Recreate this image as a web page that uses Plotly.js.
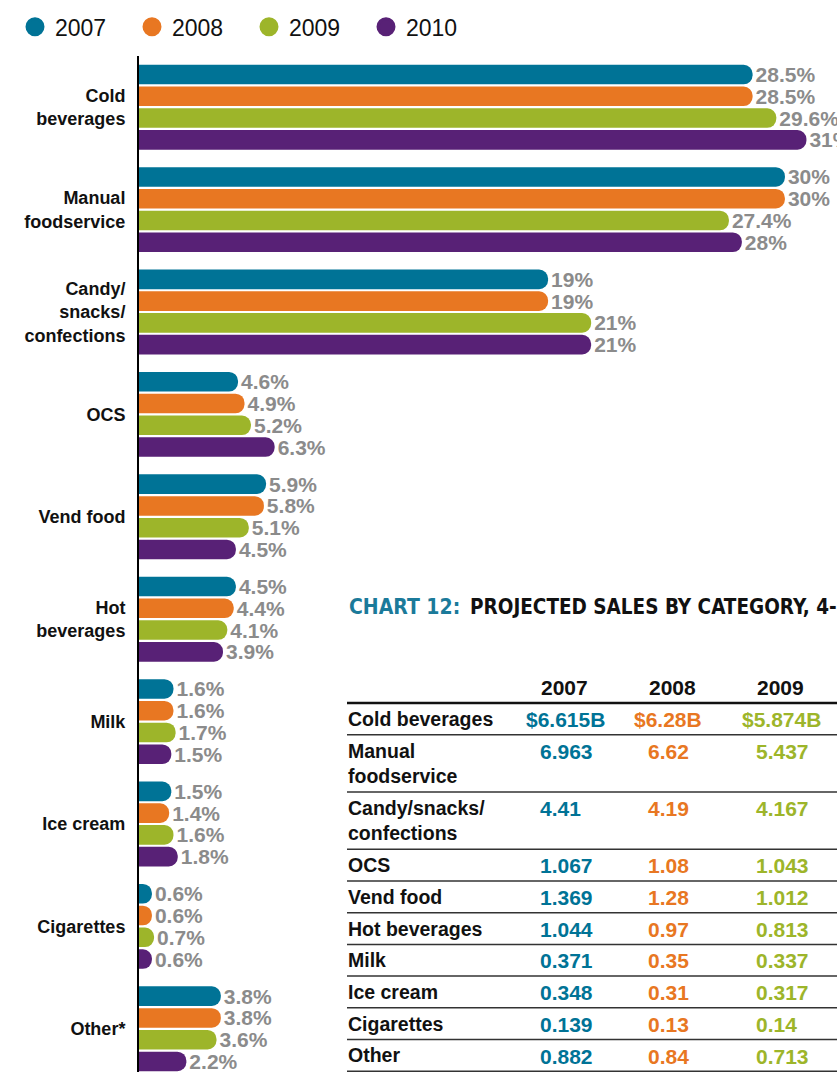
<!DOCTYPE html>
<html><head><meta charset="utf-8">
<script src="https://cdn.plot.ly/plotly-3.0.1.min.js"></script>
<style>html,body{margin:0;padding:0;background:#fff;overflow:hidden;} #chart{width:837px;height:1072px;}</style>
</head><body><div id="chart"></div>
<script>
// ---- bar chart data (share of sales, %) ----
const categories = ["Cold<br>beverages","Manual<br>foodservice","Candy/<br>snacks/<br>confections","OCS","Vend food","Hot<br>beverages","Milk","Ice cream","Cigarettes","Other*"];
const years = ["2007","2008","2009","2010"];
const share2007 = [28.5, 30, 19, 4.6, 5.9, 4.5, 1.6, 1.5, 0.6, 3.8];
const share2008 = [28.5, 30, 19, 4.9, 5.8, 4.4, 1.6, 1.4, 0.6, 3.8];
const share2009 = [29.6, 27.4, 21, 5.2, 5.1, 4.1, 1.7, 1.6, 0.7, 3.6];
const share2010 = [31, 28, 21, 6.3, 4.5, 3.9, 1.5, 1.8, 0.6, 2.2];

// ---- table data (projected sales, $ billions) ----
const tableTitleLead = "CHART 12:";
const tableTitleRest = "PROJECTED SALES BY CATEGORY, 4-";
const tableYears = ["2007","2008","2009"];
const tableRows = ["Cold beverages","Manual<br>foodservice","Candy/snacks/<br>confections","OCS","Vend food","Hot beverages","Milk","Ice cream","Cigarettes","Other"];
const sales2007 = [6.615, 6.963, 4.41, 1.067, 1.369, 1.044, 0.371, 0.348, 0.139, 0.882];
const sales2008 = [6.28, 6.62, 4.19, 1.08, 1.28, 0.97, 0.35, 0.31, 0.13, 0.84];
const sales2009 = [5.874, 5.437, 4.167, 1.043, 1.012, 0.813, 0.337, 0.317, 0.14, 0.713];

// ---- styling / geometry ----
const colors = ["#007396","#e87722","#9db52a","#582176"];
const W = 837, H = 1072, L = 139, T = 56;
const plotW = W - L, plotH = H - T;
const pxPerPct = 21.53, groupPitch = 102.4;
const px2x = p => (p - L) / plotW;
const py2y = p => 1 - (p - T) / plotH;
const sansFam = "Liberation Sans, Arial, Helvetica, sans-serif";
const narrowFam = "DejaVu Sans Condensed, Liberation Sans Narrow, Arial Narrow, sans-serif";

const shares = [share2007, share2008, share2009, share2010];
const traces = shares.map((s, i) => ({
  type: 'bar', orientation: 'h', name: years[i],
  x: s, y: categories,
  marker: {color: colors[i], cornerradius: 9},
  text: s.map(v => v + '%'), textposition: 'outside', cliponaxis: false,
  constraintext: 'none',
  textfont: {family: sansFam, size: 21, color: '#8b8b8b', weight: 700},
  showlegend: false, hoverinfo: 'skip'
}));
years.forEach((y, i) => traces.push({
  type: 'scatter', mode: 'markers', name: y, x: [null], y: [null],
  marker: {color: colors[i], size: 16, symbol: 'circle', line: {color: colors[i], width: 3}},
  showlegend: true, hoverinfo: 'skip'
}));

// ---- table as annotations + shapes ----
const annotations = [], shapes = [];
const colX = [539, 647, 755], dollarW = 14;
const tLeft = 347;
annotations.push({xref:'paper', yref:'paper', x: px2x(tLeft), y: py2y(607), xanchor:'left', yanchor:'middle', align:'left', showarrow:false,
  text: tableTitleLead, font:{family: narrowFam, size: 21, color: '#1b7a9a', weight: 700}});
annotations.push({xref:'paper', yref:'paper', x: px2x(468), y: py2y(607), xanchor:'left', yanchor:'middle', align:'left', showarrow:false,
  text: tableTitleRest, font:{family: narrowFam, size: 20.5, color: '#111', weight: 700}});
tableYears.forEach((yr, j) => annotations.push({xref:'paper', yref:'paper', x: px2x(colX[j]), y: py2y(687), xanchor:'left', yanchor:'middle', showarrow:false,
  text: yr, font:{family: sansFam, size: 21, color: '#111', weight: 700}}));
shapes.push({type:'line', xref:'paper', yref:'paper', x0: px2x(tLeft), x1: 1, y0: py2y(703), y1: py2y(703), line:{color:'#111', width:2.5}});
const salesCols = [sales2007, sales2008, sales2009];
let rowTop = 703;
tableRows.forEach((lab, r) => {
  const nLines = lab.split('<br>').length;
  const h = nLines > 1 ? 57.3 : 31.7;
  const c = rowTop + 16.5;
  annotations.push({xref:'paper', yref:'paper', x: px2x(tLeft), y: py2y(c - 12.7), xanchor:'left', yanchor:'top', align:'left', showarrow:false, borderpad:0,
    text: lab, font:{family: sansFam, size: 19.5, color: '#111', weight: 700}});
  salesCols.forEach((col, j) => {
    const txt = r === 0 ? '$' + col[r] + 'B' : String(col[r]);
    annotations.push({xref:'paper', yref:'paper', x: px2x(colX[j] - (r === 0 ? dollarW : 0)), y: py2y(c), xanchor:'left', yanchor:'middle', showarrow:false, borderpad:0,
      text: txt, font:{family: sansFam, size: 21, color: colors[j], weight: 700}});
  });
  rowTop += h;
  shapes.push({type:'line', xref:'paper', yref:'paper', x0: px2x(tLeft), x1: 1, y0: py2y(rowTop), y1: py2y(rowTop), line:{color:'#333', width:1.5}});
});

const layout = {
  width: W, height: H,
  margin: {l: L, r: 0, t: T, b: 0, pad: 0},
  paper_bgcolor: '#fff', plot_bgcolor: '#fff',
  barmode: 'group', bargap: 0.15, bargroupgap: 0.1,
  xaxis: {range: [0, plotW / pxPerPct], visible: false, fixedrange: true},
  yaxis: {type: 'category', categoryorder: 'array', categoryarray: categories,
    range: [-0.5 + plotH / groupPitch, -0.5],
    showline: true, linecolor: '#000', linewidth: 2, showgrid: false, zeroline: false,
    ticks: 'outside', ticklen: 8, tickcolor: 'rgba(0,0,0,0)',
    tickfont: {family: sansFam, size: 18, color: '#111', weight: 700}, fixedrange: true},
  legend: {orientation: 'h', xref: 'container', yref: 'container', x: 15 / W, y: 0.995, xanchor: 'left', yanchor: 'top',
    font: {family: sansFam, size: 23, color: '#111'}, entrywidth: 72, entrywidthmode: 'pixels',
    itemsizing: 'trace', traceorder: 'normal', bgcolor: 'rgba(0,0,0,0)'},
  annotations: annotations, shapes: shapes,
  showlegend: true
};
Plotly.newPlot('chart', traces, layout, {displayModeBar: false, staticPlot: true});
</script></body></html>
